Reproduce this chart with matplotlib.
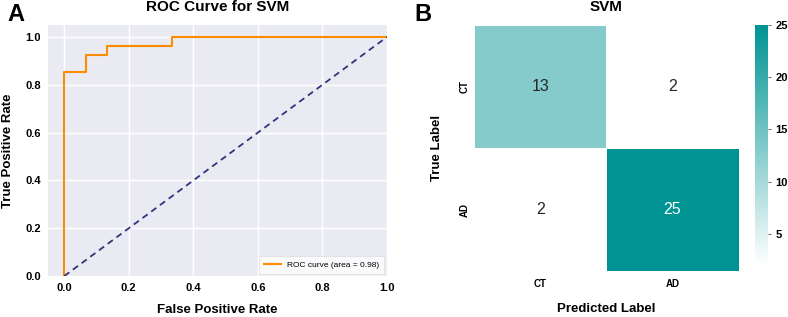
import numpy as np
import matplotlib
matplotlib.use('Agg')
import matplotlib.pyplot as plt
import seaborn as sns
from matplotlib.colors import LinearSegmentedColormap

# ROC points (15 CT negatives, 27 AD positives)
fpr = [0.0, 0.0, 1/15, 1/15, 2/15, 2/15, 5/15, 5/15, 1.0]
tpr = [0.0, 23/27, 23/27, 25/27, 25/27, 26/27, 26/27, 1.0, 1.0]
roc_auc = 0.98

class_names = ['CT', 'AD']
conf_mat = np.array([[13, 2],
                     [2, 25]])

plt.rcParams['font.family'] = ['Liberation Sans', 'DejaVu Sans']

fig = plt.figure(figsize=(7.88, 3.17), dpi=100)

# --- A: ROC curve
ax1 = fig.add_axes([0.061, 0.129, 0.430, 0.792])
ax1.set_facecolor('#EAEAF2')
for s in ax1.spines.values():
    s.set_visible(False)
ax1.grid(True, color='white', linewidth=1.0)
ax1.set_axisbelow(True)
ax1.plot(fpr, tpr, color='darkorange', lw=1.5, label='ROC curve (area = %0.2f)' % roc_auc)
ax1.plot([0, 1], [0, 1], color='#1f1f70', lw=1.3, linestyle='--', dashes=(3.5, 2.5), alpha=0.9)
ax1.set_xlim(-0.05, 1.0)
ax1.set_ylim(-0.0, 1.05)
ax1.set_xticks(np.arange(0, 1.01, 0.2))
ax1.set_yticks(np.arange(0, 1.01, 0.2))
ax1.tick_params(length=0, labelsize=8, pad=5)
for lbl in ax1.get_xticklabels() + ax1.get_yticklabels():
    lbl.set_fontweight('bold')
ax1.set_xlabel('False Positive Rate', fontsize=9.5, fontweight='bold', labelpad=8)
ax1.set_ylabel('True Positive Rate', fontsize=9.5, fontweight='bold', labelpad=8)
ax1.set_title('ROC Curve for SVM', fontsize=11, fontweight='bold', pad=10)
leg = ax1.legend(loc='lower right', fontsize=6, frameon=True, fancybox=False,
                 borderpad=0.6, borderaxespad=0.3)
leg.get_frame().set_facecolor('white')
leg.get_frame().set_edgecolor('#dddddd')
leg.get_frame().set_linewidth(0.6)

# --- B: confusion matrix
ax2 = fig.add_axes([0.6015, 0.145, 0.336, 0.776])
cax = fig.add_axes([0.958, 0.164, 0.0165, 0.757])
cmap = LinearSegmentedColormap.from_list('teal', ['#ffffff', '#009393'])
sns.heatmap(conf_mat, annot=True, fmt='d', cmap=cmap, ax=ax2, cbar_ax=cax,
            linewidths=0.6, linecolor='white',
            xticklabels=class_names, yticklabels=class_names,
            annot_kws={'fontsize': 11.5})
ax2.tick_params(axis='x', length=0, labelsize=7, pad=6)
ax2.tick_params(axis='y', length=0, labelsize=7, pad=3)
for lbl in ax2.get_xticklabels() + ax2.get_yticklabels():
    lbl.set_fontweight('bold')
plt.setp(ax2.get_yticklabels(), rotation=90, va='center')
ax2.set_xlabel('Predicted Label', fontsize=9.5, fontweight='bold', labelpad=10)
ax2.set_ylabel('True Label', fontsize=9.5, fontweight='bold', labelpad=12)
ax2.set_title('SVM', fontsize=11, fontweight='bold', pad=10)
cax.tick_params(labelsize=8, length=2, width=0.6, color='#555555')
for lbl in cax.get_yticklabels():
    lbl.set_fontweight('bold')
cax.set_yticks([5, 10, 15, 20, 25])
for s in cax.spines.values():
    s.set_visible(False)

fig.text(0.010, 0.955, 'A', fontsize=17, fontweight='bold', va='center')
fig.text(0.526, 0.955, 'B', fontsize=17, fontweight='bold', va='center')

fig.savefig('out.png', dpi=100)
